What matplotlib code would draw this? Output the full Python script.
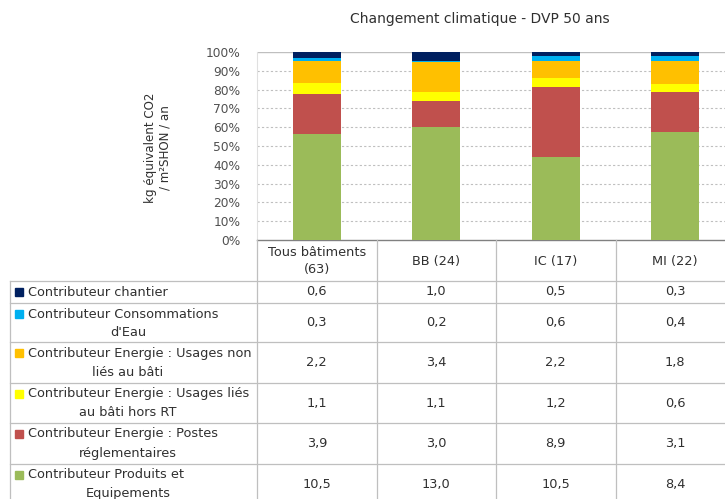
import numpy as np
import matplotlib
matplotlib.use("Agg")
import matplotlib.pyplot as plt
from matplotlib.patches import Rectangle
from matplotlib.lines import Line2D

plt.rcParams['font.family'] = ['DejaVu Sans']

# ---------------- data ----------------
categories = ["Tous bâtiments\n(63)", "BB (24)", "IC (17)", "MI (22)"]
series_labels = [
    ["Contributeur chantier"],
    ["Contributeur Consommations", "d'Eau"],
    ["Contributeur Energie : Usages non", "liés au bâti"],
    ["Contributeur Energie : Usages liés", "au bâti hors RT"],
    ["Contributeur Energie : Postes", "réglementaires"],
    ["Contributeur Produits et", "Equipements"],
]
chantier = [0.6, 1.0, 0.5, 0.3]
eau = [0.3, 0.2, 0.6, 0.4]
non_lies = [2.2, 3.4, 2.2, 1.8]
lies = [1.1, 1.1, 1.2, 0.6]
postes = [3.9, 3.0, 8.9, 3.1]
produits = [10.5, 13.0, 10.5, 8.4]
series_values = [chantier, eau, non_lies, lies, postes, produits]
colors = ["#002060", "#00B0F0", "#FFC000", "#FFFF00", "#C0504D", "#9BBB59"]
yticks = [0, 0.1, 0.2, 0.3, 0.4, 0.5, 0.6, 0.7, 0.8, 0.9, 1.0]
title = "Changement climatique - DVP 50 ans"
ylabel = "kg équivalent CO2\n/ m²SHON / an"

W, H = 725, 499
fig = plt.figure(figsize=(W / 100, H / 100), dpi=100)

def fx(x):
    return x / W

def fy(y):
    return 1 - y / H

# ---------------- axes ----------------
ax_l, ax_r, ax_t, ax_b = 257, 735, 52, 240
ax = fig.add_axes([fx(ax_l), fy(ax_b), fx(ax_r - ax_l), (ax_b - ax_t) / H])
vals = np.array(series_values, dtype=float)
totals = vals.sum(axis=0)
pct = vals / totals
x = np.arange(len(categories))
bottom = np.zeros(len(categories))
# stack from bottom (last series) to top (first series)
for i in range(len(series_values) - 1, -1, -1):
    ax.bar(x, pct[i], bottom=bottom, width=0.40, color=colors[i], zorder=3)
    bottom += pct[i]
ax.set_xlim(-0.5, len(categories) - 0.5)
ax.set_ylim(0, 1)
ax.set_yticks(yticks)
ax.set_yticklabels([f"{int(round(t*100))}%" for t in yticks], fontsize=8.8, color="#505050")
ax.tick_params(axis='y', length=0, pad=12)
ax.set_xticks([])
for t in yticks[1:-1]:
    ax.axhline(t, color="#BFBFBF", lw=0.8, ls=(0, (2, 2)), zorder=1)
ax.axhline(1.0, color="#BFBFBF", lw=1.0, zorder=1)
for s in ["top", "right"]:
    ax.spines[s].set_visible(False)
ax.spines["left"].set_color("#E0E0E0")
ax.spines["bottom"].set_color("#808080")
ax.spines["bottom"].set_linewidth(1.0)

fig.text(fx(480), fy(19), title, ha="center", va="center", fontsize=10, color="#303030")
fig.text(fx(158), fy(148), ylabel, ha="center", va="center", rotation=90,
         fontsize=8.6, color="#303030", linespacing=1.2)

# ---------------- data table ----------------
col_edges = [257 + k * 119.5 for k in range(len(categories) + 1)]
row_edges = [281, 303, 342, 383, 423, 464, 505]
left_x = 10
grid_c = "#BFBFBF"
txt_c = "#303030"
fs = 9.3

def hline(y, x0, x1):
    fig.add_artist(Line2D([fx(x0), fx(x1)], [fy(y), fy(y)], transform=fig.transFigure,
                          color=grid_c, lw=0.9))

def vline(x, y0, y1):
    fig.add_artist(Line2D([fx(x), fx(x)], [fy(y0), fy(y1)], transform=fig.transFigure,
                          color=grid_c, lw=0.9))

for y in row_edges:
    hline(y, left_x, col_edges[-1])
for xe in col_edges:
    vline(xe, ax_b, 505)
vline(left_x, row_edges[0], 505)

# header
for j, cat in enumerate(categories):
    cx = (col_edges[j] + col_edges[j + 1]) / 2
    fig.text(fx(cx), fy(261), cat, ha="center", va="center", fontsize=fs,
             color=txt_c, linespacing=1.4)

# rows
for i, lab in enumerate(series_labels):
    top, bot = row_edges[i], row_edges[i + 1]
    if len(lab) == 1:
        y1 = (top + bot) / 2
    else:
        y1 = top + 11
    fig.add_artist(Rectangle((fx(15), fy(y1 + 4)), fx(8), 8 / H, transform=fig.transFigure,
                             color=colors[i]))
    fig.text(fx(28), fy(y1), lab[0], ha="left", va="center", fontsize=fs, color=txt_c)
    if len(lab) > 1:
        fig.text(fx(128), fy(y1 + 19), lab[1], ha="center", va="center", fontsize=fs,
                 color=txt_c)
    ymid = (top + min(bot, 505)) / 2
    for j in range(len(categories)):
        cx = (col_edges[j] + col_edges[j + 1]) / 2
        s = f"{series_values[i][j]:.1f}".replace(".", ",")
        fig.text(fx(cx), fy(ymid), s, ha="center", va="center", fontsize=fs, color=txt_c)

fig.savefig("out.png", dpi=100)
